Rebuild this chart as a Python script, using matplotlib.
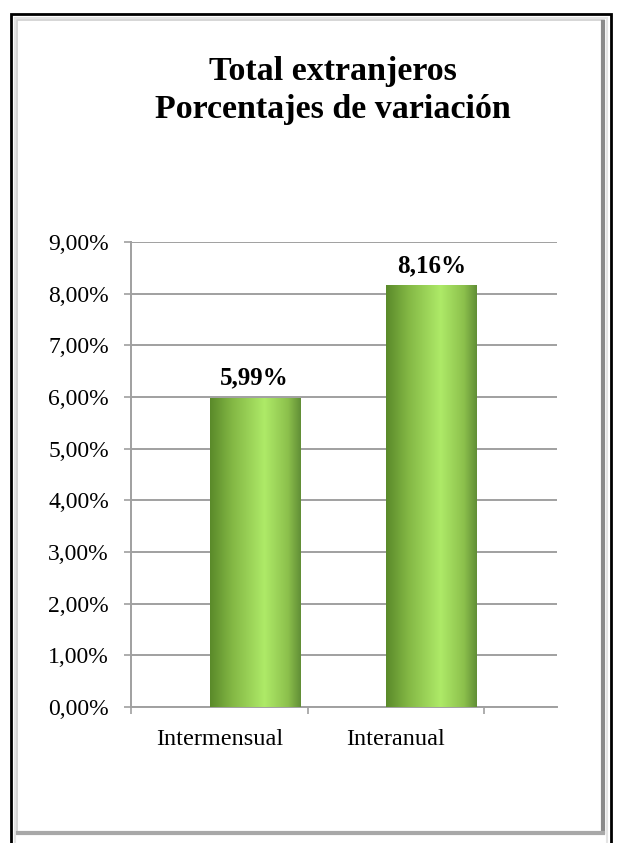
import numpy as np
import matplotlib
matplotlib.use("Agg")
import matplotlib.pyplot as plt
from matplotlib.colors import LinearSegmentedColormap
from matplotlib.patches import Rectangle

categories = ["Intermensual", "Interanual"]
values = [5.99, 8.16]
value_labels = ["5,99%", "8,16%"]
yticks = [0, 1, 2, 3, 4, 5, 6, 7, 8, 9]
title_lines = ["Total extranjeros", "Porcentajes de variación"]

plt.rcParams["font.family"] = ["Liberation Serif", "DejaVu Serif"]

fig = plt.figure(figsize=(6.17, 8.43), dpi=100)

# frame around the chart
def frame_rect(x0, y0, x1, y1, color, lw):
    fig.patches.append(Rectangle((x0 / 617, 1 - y1 / 843), (x1 - x0) / 617, (y1 - y0) / 843,
                                 transform=fig.transFigure, fill=False,
                                 edgecolor=color, linewidth=lw))

frame_rect(11, 14, 611, 860, "black", 2.0)
frame_rect(15, 18, 607, 856, "#e4e4e4", 1.5)
frame_rect(17, 20, 604, 832, "#cfcfcf", 1.2)
# darker shade on right and bottom
fig.lines.append(plt.Line2D([603 / 617, 603 / 617], [1 - 22 / 843, 1 - 832 / 843],
                            transform=fig.transFigure, color="#8a8a8a", linewidth=3))
fig.lines.append(plt.Line2D([18 / 617, 603 / 617], [1 - 833 / 843, 1 - 833 / 843],
                            transform=fig.transFigure, color="#a8a8a8", linewidth=3))

ax = fig.add_axes([131 / 617, (843 - 707) / 843, (557 - 131) / 617, (707 - 242) / 843])

x = np.arange(len(categories))
bars = ax.bar(x + 0.2, values, width=0.51, color="#8cc44c", zorder=3)

cmap = LinearSegmentedColormap.from_list(
    "cyl", [(0.0, "#5a8a2a"), (0.25, "#84b845"), (0.6, "#aeea68"),
            (0.86, "#8cc04c"), (1.0, "#618e36")])
grad = np.linspace(0, 1, 256).reshape(1, -1)
for b in bars:
    im = ax.imshow(grad, cmap=cmap, aspect="auto", zorder=3,
                   extent=(b.get_x(), b.get_x() + b.get_width(), 0, b.get_height()))
    im.set_clip_path(b)

for xi, v, lab in zip(x, values, value_labels):
    ax.annotate(lab, (xi + 0.2, v), xytext=(0, 6), textcoords="offset points",
                ha="center", va="bottom", fontsize=18, fontweight="bold")

ax.set_xlim(-0.5, 1.912)
ax.set_ylim(0, 9)
ax.set_yticks(yticks)
ax.set_yticklabels([f"{t:.2f}%".replace(".", ",") for t in yticks])
ax.set_xticks(x)
ax.set_xticklabels(categories)
ax.set_xticks([-0.5, 0.5, 1.5], minor=True)
ax.tick_params(axis="x", which="major", length=0, pad=16, labelsize=17.5)
ax.tick_params(axis="x", which="minor", length=5, color="#a0a0a0", width=1.2)
ax.tick_params(axis="y", length=5, color="#a0a0a0", width=1.2, pad=11, labelsize=17)
ax.yaxis.grid(True, color="#a0a0a0", linewidth=1.4, zorder=1)
ax.set_axisbelow(True)
for s in ["top", "right"]:
    ax.spines[s].set_visible(False)
for s in ["left", "bottom"]:
    ax.spines[s].set_color("#a0a0a0")
    ax.spines[s].set_linewidth(1.4)

for line, base in zip(title_lines, [80, 118]):
    fig.text(333 / 617, 1 - base / 843, line, ha="center", va="baseline",
             fontsize=24.5, fontweight="bold")

fig.savefig("out.png", dpi=100)
